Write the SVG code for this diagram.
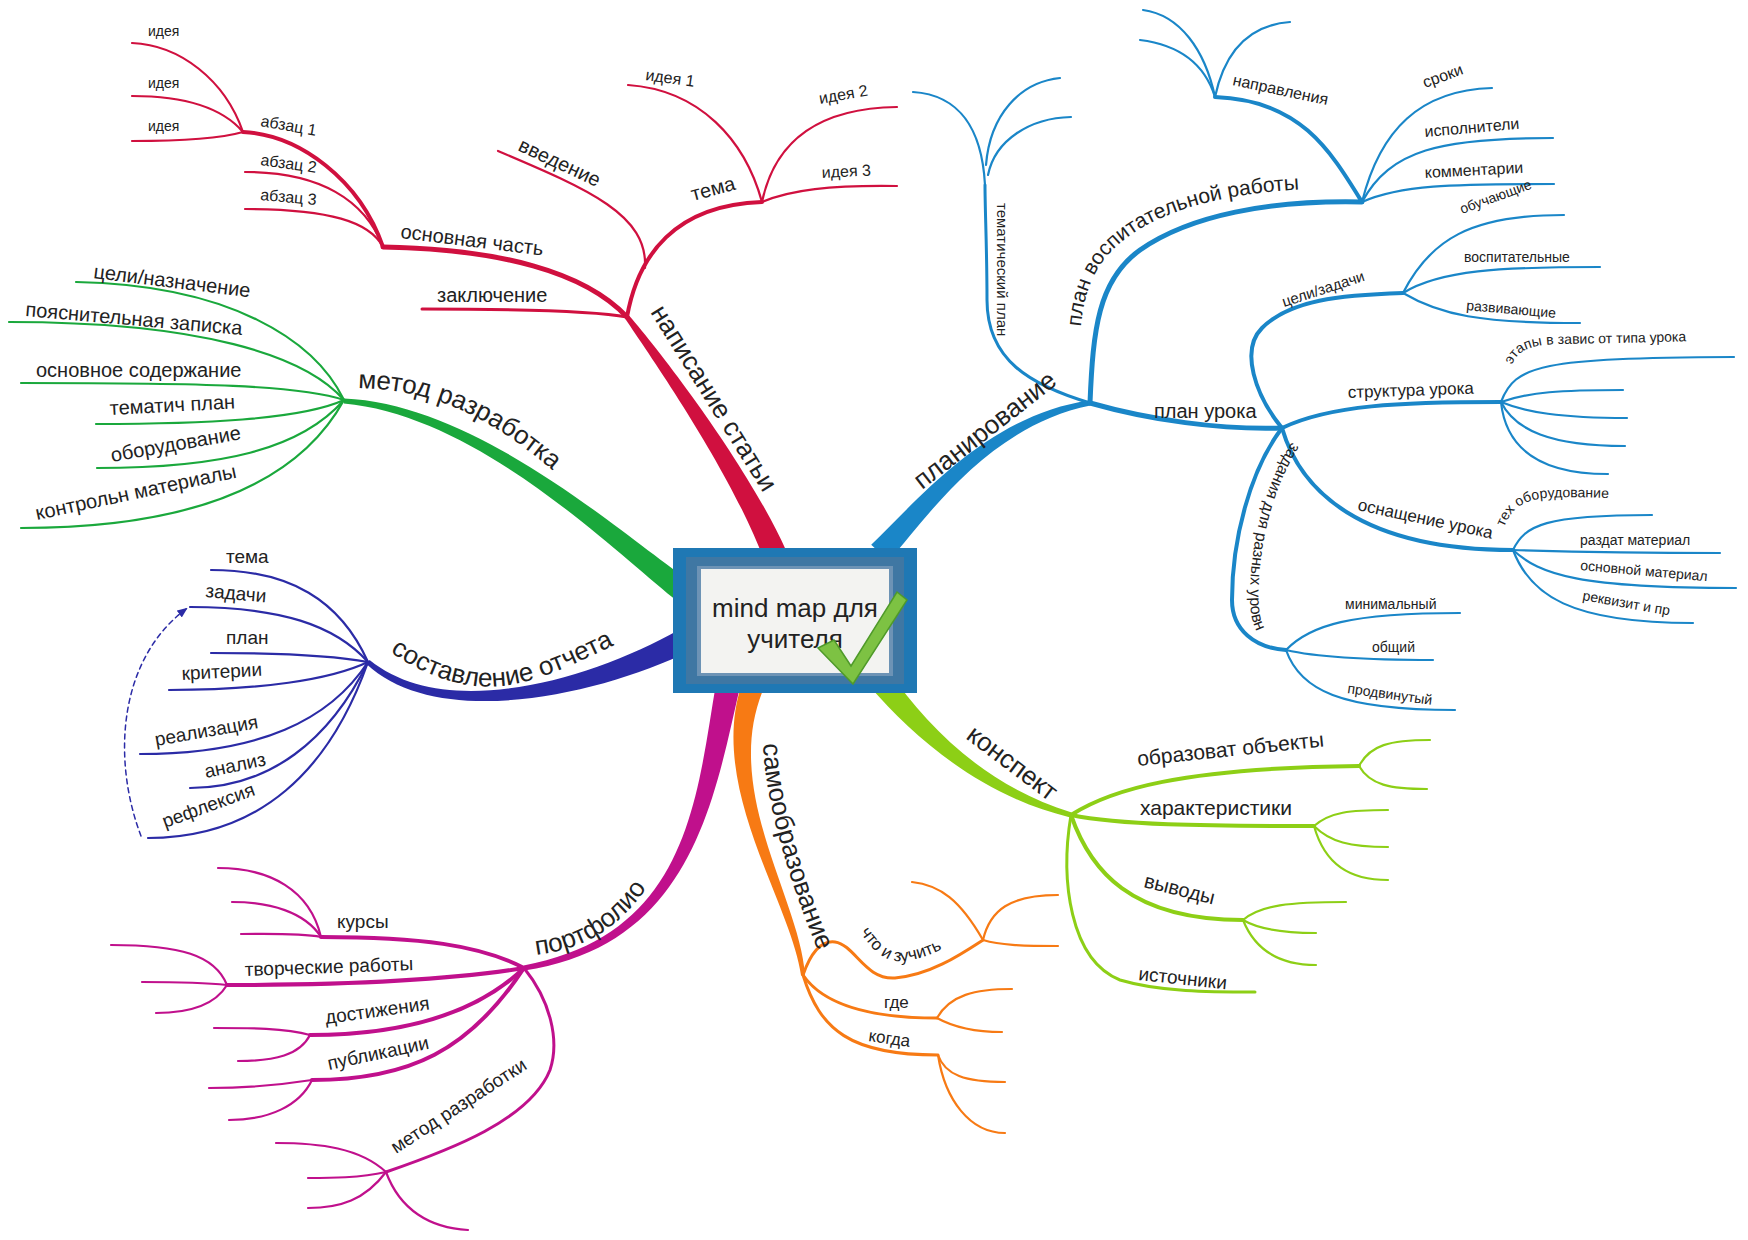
<svg xmlns="http://www.w3.org/2000/svg" width="1748" height="1240" viewBox="0 0 1748 1240">
<defs>
<style>
text{font-family:"Liberation Sans",Arial,sans-serif;fill:#222}
.c{fill:none;stroke-linecap:round}
.r{stroke:#d0103f}.b{stroke:#1a86c8}.g{stroke:#1aa83c}.i{stroke:#2b2ba6}.m{stroke:#c0108c}.o{stroke:#f77a14}.l{stroke:#8dcf16}
.fr{fill:#d0103f}.fb{fill:#1a86c8}.fg{fill:#1aa83c}.fi{fill:#2b2ba6}.fm{fill:#c0108c}.fo{fill:#f77a14}.fl{fill:#8dcf16}
.w5{stroke-width:5}.w4{stroke-width:4}.w3{stroke-width:3}.w2{stroke-width:2.2}
.t26{font-size:26px}.t21{font-size:21px}.t20{font-size:20px}.t19{font-size:19px}.t17{font-size:17px}.t16{font-size:16px}.t15{font-size:15px}.t14{font-size:14px}
</style>
<marker id="ah" viewBox="0 0 10 10" refX="8" refY="5" markerWidth="7" markerHeight="7" orient="auto"><path d="M0,1 L10,5 L0,9 Z" fill="#2b2ba6"/></marker>
<path id="tp-vosp" d="M1080,335 C1084,282 1100,255 1135,232 C1185,200 1260,188 1352,188"/>
<path id="tp-metod" d="M358,388 C430,390 490,412 570,486"/>
<path id="tp-otch" d="M390,652 C422,674 462,690 502,686 C550,680 590,655 630,638"/>
<path id="tp-portf" d="M536,955 C590,948 628,925 664,860"/>
<path id="tp-samo" d="M763,744 C765,800 788,880 820,955"/>
<path id="tp-chto" d="M860,932 C872,950 886,964 906,961 C932,957 952,944 976,930"/>
<path id="tp-zad" d="M1292,442 C1266,482 1250,540 1250,598 C1250,620 1256,636 1270,648"/>
<path id="tp-teh" d="M1504,527 C1512,508 1524,500 1545,498 C1580,496 1610,498 1640,500"/>
<path id="tp-etap" d="M1512,365 C1518,350 1530,345 1560,344 C1620,343 1670,342 1720,340"/>
</defs>
<rect width="1748" height="1240" fill="#ffffff"/>

<g id="connectors">
<!-- main tapered branches -->
<path class="fr" d="M786.1,550.4 C748.2,466.6 664.5,356.5 629,315.5 L625,318.5 C655.5,363.5 731.8,473.4 763.9,559.6 Z"/>
<path class="fb" d="M888.8,561.2 C931.4,511 991,425.6 1090.4,405.5 L1089.6,400.5 C989,414.4 918.6,499 871.2,544.8 Z"/>
<path class="fg" d="M692,582.3 C625.2,537.8 480.4,404.3 344.2,398.5 L343.8,403.5 C479.6,415.7 614.8,552.2 678,601.7 Z"/>
<path class="fi" d="M679.4,629.4 C585.9,682.2 443.7,720.7 369.6,660.1 L366.4,663.9 C436.3,729.3 594.1,697.8 690.6,650.6 Z"/>
<path class="fm" d="M716.2,682.6 C696.3,798.3 689.1,934.4 523.6,965.5 L524.4,970.5 C690.9,945.6 713.7,801.7 739.8,687.4 Z"/>
<path class="fo" d="M741.7,684.2 C707.5,787.3 790,900.5 801,975.2 L805,974.8 C800,899.5 722.5,792.7 762.3,691.8 Z"/>
<path class="fl" d="M870.6,687.5 C913.1,735.5 978.5,795.5 1070.3,817.4 L1071.7,812.6 C981.5,784.5 926.9,724.5 889.4,672.5 Z"/>

<!-- red -->
<path class="c r w5" d="M627,317 C585,272 500,249 383,247"/>
<path class="c r w3" d="M627,317 C590,310 500,309 422,309"/>
<path class="c r w4" d="M627,317 C638,255 675,205 762,202"/>
<path class="c r w2" d="M498,151 C590,190 648,215 645,268"/>
<path class="c r w2" d="M628,85 C700,90 745,140 762,202"/>
<path class="c r w2" d="M897,107 C820,108 775,140 762,202"/>
<path class="c r w2" d="M897,186 C830,185 790,190 762,202"/>
<path class="c r w4" d="M383,247 C360,180 300,135 243,132"/>
<path class="c r w2" d="M383,247 C365,200 320,172 245,172"/>
<path class="c r w2" d="M383,247 C370,222 330,209 245,209"/>
<path class="c r w2" d="M243,132 C225,80 180,45 132,43"/>
<path class="c r w2" d="M243,132 C220,105 180,96 132,96"/>
<path class="c r w2" d="M243,132 C215,140 170,141 132,141"/>

<!-- blue -->
<path class="c b w3" d="M1090,403 C1030,385 987,360 987,300 C987,250 985,210 985,185"/>
<path class="c b w2" d="M985,185 C982,130 960,95 913,92"/>
<path class="c b w2" d="M986,165 C990,115 1020,82 1060,78"/>
<path class="c b w2" d="M988,175 C995,140 1030,118 1071,117"/>
<path class="c b w5" d="M1090,403 C1093,330 1098,280 1140,250 C1190,215 1270,200 1362,202"/>
<path class="c b w4" d="M1362,202 C1330,150 1300,100 1215,97"/>
<path class="c b w2" d="M1215,97 C1205,50 1180,15 1143,10"/>
<path class="c b w2" d="M1215,97 C1205,65 1180,45 1140,40"/>
<path class="c b w2" d="M1215,97 C1225,50 1250,25 1290,22"/>
<path class="c b w2" d="M1362,202 C1380,130 1420,90 1492,88"/>
<path class="c b w2" d="M1362,202 C1390,150 1440,138 1553,138"/>
<path class="c b w2" d="M1362,202 C1400,185 1450,184 1554,184"/>
<path class="c b w5" d="M1090,403 C1150,420 1220,430 1282,428"/>
<path class="c b w4" d="M1282,428 C1255,395 1240,350 1262,328 C1290,300 1340,295 1403,293"/>
<path class="c b w2" d="M1403,293 C1430,240 1470,215 1564,215"/>
<path class="c b w2" d="M1403,293 C1440,270 1500,267 1600,267"/>
<path class="c b w2" d="M1403,293 C1440,315 1480,323 1580,323"/>
<path class="c b w4" d="M1282,428 C1330,405 1400,402 1501,402"/>
<path class="c b w2" d="M1501,402 C1515,365 1540,358 1734,357"/>
<path class="c b w2" d="M1501,402 C1530,392 1560,390 1623,390"/>
<path class="c b w2" d="M1501,402 C1525,412 1560,418 1627,418"/>
<path class="c b w2" d="M1501,402 C1515,430 1550,446 1625,446"/>
<path class="c b w2" d="M1501,402 C1505,440 1530,474 1608,474"/>
<path class="c b w4" d="M1282,428 C1300,490 1360,550 1513,550"/>
<path class="c b w2" d="M1513,550 C1525,525 1545,515 1652,515"/>
<path class="c b w2" d="M1513,550 C1580,552 1650,553 1720,553"/>
<path class="c b w2" d="M1513,550 C1540,575 1580,588 1736,588"/>
<path class="c b w2" d="M1513,550 C1530,595 1570,623 1693,623"/>
<path class="c b w4" d="M1282,428 C1250,470 1232,540 1232,600 C1232,630 1255,648 1286,650"/>
<path class="c b w2" d="M1286,650 C1310,625 1350,613 1460,613"/>
<path class="c b w2" d="M1286,650 C1320,658 1370,660 1433,660"/>
<path class="c b w2" d="M1286,650 C1300,690 1340,710 1455,710"/>

<!-- green -->
<path class="c g w2" d="M344,400 C315,340 230,285 76,282"/>
<path class="c g w2" d="M344,400 C305,355 200,322 9,322"/>
<path class="c g w2" d="M344,400 C300,385 200,383 21,383"/>
<path class="c g w2" d="M344,400 C300,420 200,424 96,424"/>
<path class="c g w2" d="M344,400 C300,450 220,468 97,468"/>
<path class="c g w2" d="M344,400 C300,480 200,528 21,528"/>

<!-- indigo -->
<path class="c i w2" d="M368,662 C340,600 290,570 211,570"/>
<path class="c i w2" d="M368,662 C335,625 280,607 190,607"/>
<path class="c i w2" d="M368,662 C330,655 280,653 211,653"/>
<path class="c i w2" d="M368,662 C330,680 260,690 169,690"/>
<path class="c i w2" d="M368,662 C330,720 260,754 140,754"/>
<path class="c i w2" d="M368,662 C330,740 270,788 190,788"/>
<path class="c i w2" d="M368,662 C330,770 260,838 148,838"/>
<path class="c i" stroke-width="1.5" stroke-dasharray="5,4" marker-end="url(#ah)" d="M141,836 C112,760 118,660 186,609"/>

<!-- magenta -->
<path class="c m w4" d="M524,968 C480,945 420,937 321,937"/>
<path class="c m w2" d="M321,937 C310,890 270,868 218,868"/>
<path class="c m w2" d="M321,937 C305,912 270,902 232,902"/>
<path class="c m w2" d="M321,937 C300,933 270,934 241,934"/>
<path class="c m w4" d="M524,968 C450,980 350,985 227,985"/>
<path class="c m w2" d="M227,985 C215,955 180,945 111,945"/>
<path class="c m w2" d="M227,985 C200,982 170,982 142,982"/>
<path class="c m w2" d="M227,985 C215,1005 190,1013 156,1013"/>
<path class="c m w4" d="M524,968 C480,1010 410,1035 310,1035"/>
<path class="c m w2" d="M310,1035 C285,1028 250,1028 214,1028"/>
<path class="c m w2" d="M310,1035 C300,1055 275,1061 238,1061"/>
<path class="c m w4" d="M524,968 C470,1050 410,1080 312,1080"/>
<path class="c m w2" d="M312,1080 C280,1085 240,1088 209,1088"/>
<path class="c m w2" d="M312,1080 C300,1105 270,1120 229,1120"/>
<path class="c m w3" d="M524,968 C550,1000 560,1040 550,1070 C530,1120 450,1150 386,1172"/>
<path class="c m w2" d="M386,1172 C360,1148 320,1143 276,1143"/>
<path class="c m w2" d="M386,1172 C360,1178 330,1178 308,1178"/>
<path class="c m w2" d="M386,1172 C365,1200 340,1208 308,1208"/>
<path class="c m w2" d="M386,1172 C400,1210 430,1228 468,1230"/>

<!-- orange -->
<path class="c o w3" d="M803,975 C810,955 820,940 835,942 C855,945 865,980 895,978 C930,975 960,955 983,940"/>
<path class="c o w2" d="M983,940 C960,900 940,885 912,882"/>
<path class="c o w2" d="M983,940 C990,910 1010,895 1058,895"/>
<path class="c o w2" d="M983,940 C1000,945 1020,946 1058,946"/>
<path class="c o w3" d="M803,975 C820,1000 860,1018 937,1018"/>
<path class="c o w2" d="M937,1018 C950,995 975,989 1012,989"/>
<path class="c o w2" d="M937,1018 C955,1028 975,1032 1002,1032"/>
<path class="c o w3" d="M803,975 C820,1030 850,1055 938,1055"/>
<path class="c o w2" d="M938,1055 C945,1075 965,1082 1005,1082"/>
<path class="c o w2" d="M938,1055 C945,1100 970,1133 1005,1133"/>

<!-- lime -->
<path class="c l w4" d="M1071,815 C1110,790 1180,768 1359,766"/>
<path class="c l w2" d="M1359,766 C1370,745 1390,740 1430,740"/>
<path class="c l w2" d="M1359,766 C1370,785 1390,789 1427,789"/>
<path class="c l w4" d="M1071,815 C1120,825 1200,826 1314,826"/>
<path class="c l w2" d="M1314,826 C1330,812 1350,810 1388,810"/>
<path class="c l w2" d="M1314,826 C1330,842 1350,847 1388,847"/>
<path class="c l w2" d="M1314,826 C1325,865 1350,880 1388,880"/>
<path class="c l w4" d="M1071,815 C1090,870 1130,920 1243,920"/>
<path class="c l w2" d="M1243,920 C1260,905 1290,902 1346,902"/>
<path class="c l w2" d="M1243,920 C1260,930 1285,933 1316,933"/>
<path class="c l w2" d="M1243,920 C1255,950 1280,965 1316,965"/>
<path class="c l w3" d="M1071,815 C1060,880 1070,960 1120,980 C1160,992 1210,992 1255,992"/>
</g>

<g id="center">
<rect x="673" y="548" width="244" height="145" fill="#1f78b4"/>
<rect x="686" y="557" width="218" height="127" fill="#3f77a3"/>
<rect x="697" y="566" width="196" height="110" fill="#6d93b5"/>
<rect x="701" y="569" width="188" height="104" fill="#f3f3f1"/>
<text class="t26" x="795" y="617" text-anchor="middle">mind map для</text>
<text class="t26" x="795" y="648" text-anchor="middle">учителя</text>
<polygon points="818,648 834,640 851,666 897,592 907,600 853,684" fill="#7dc243" stroke="#4f9a2a" stroke-width="1.5"/>
</g>

<g id="n-napisanie">
<text class="t26" x="650" y="312" transform="rotate(58 650 312)">написание статьи</text>
</g>
<g id="n-napisanie-sub">
<text class="t20" x="400" y="238" transform="rotate(7 400 238)">основная часть</text>
<text class="t20" x="437" y="302">заключение</text>
<text class="t20" x="517" y="150" transform="rotate(25 517 150)">введение</text>
<text class="t20" x="693" y="201" transform="rotate(-15 693 201)">тема</text>
<text class="t16" x="645" y="80" transform="rotate(8 645 80)">идея 1</text>
<text class="t16" x="820" y="104" transform="rotate(-10 820 104)">идея 2</text>
<text class="t16" x="822" y="178" transform="rotate(-3 822 178)">идея 3</text>
<text class="t16" x="260" y="126" transform="rotate(10 260 126)">абзац 1</text>
<text class="t16" x="260" y="165" transform="rotate(8 260 165)">абзац 2</text>
<text class="t16" x="260" y="200" transform="rotate(5 260 200)">абзац 3</text>
<text class="t14" x="148" y="36">идея</text>
<text class="t14" x="148" y="88">идея</text>
<text class="t14" x="148" y="131">идея</text>
</g>

<g id="n-planirovanie">
<text class="t26" x="922" y="490" transform="rotate(-38 922 490)">планирование</text>
</g>
<g id="n-planirovanie-sub">
<text class="t15" x="997" y="203" transform="rotate(90 997 203)">тематический план</text>
<text class="t21"><textPath href="#tp-vosp" startOffset="8">план воспитательной работы</textPath></text>
<text class="t16" x="1232" y="85" transform="rotate(12 1232 85)">направления</text>
<text class="t16" x="1425" y="88" transform="rotate(-20 1425 88)">сроки</text>
<text class="t16" x="1425" y="137" transform="rotate(-5 1425 137)">исполнители</text>
<text class="t16" x="1425" y="178" transform="rotate(-3 1425 178)">комментарии</text>
<text class="t20" x="1154" y="418">план урока</text>
<text class="t15" x="1284" y="307" transform="rotate(-18 1284 307)">цели/задачи</text>
<text class="t14" x="1462" y="214" transform="rotate(-20 1462 214)">обучающие</text>
<text class="t14" x="1464" y="262">воспитательные</text>
<text class="t14" x="1466" y="310" transform="rotate(5 1466 310)">развивающие</text>
<text class="t17" x="1348" y="398" transform="rotate(-2 1348 398)">структура урока</text>
<text class="t14"><textPath href="#tp-etap">этапы в завис от типа урока</textPath></text>
<text class="t17" x="1357" y="510" transform="rotate(12 1357 510)">оснащение урока</text>
<text class="t14"><textPath href="#tp-teh">тех оборудование</textPath></text>
<text class="t14" x="1580" y="545">раздат материал</text>
<text class="t14" x="1580" y="570" transform="rotate(5 1580 570)">основной материал</text>
<text class="t14" x="1582" y="600" transform="rotate(10 1582 600)">реквизит и пр</text>
<text class="t16"><textPath href="#tp-zad">задания для разных уровн</textPath></text>
<text class="t14" x="1345" y="609">минимальный</text>
<text class="t14" x="1372" y="652">общий</text>
<text class="t14" x="1347" y="693" transform="rotate(8 1347 693)">продвинутый</text>
</g>

<g id="n-metod">
<text class="t26"><textPath href="#tp-metod">метод разработка</textPath></text>
</g>
<g id="n-metod-sub">
<text class="t20" x="93" y="278" transform="rotate(7 93 278)">цели/назначение</text>
<text class="t20" x="25" y="316" transform="rotate(5 25 316)">пояснительная записка</text>
<text class="t20" x="36" y="377">основное содержание</text>
<text class="t20" x="110" y="415" transform="rotate(-3 110 415)">тематич план</text>
<text class="t20" x="112" y="462" transform="rotate(-10 112 462)">оборудование</text>
<text class="t20" x="37" y="520" transform="rotate(-12 37 520)">контрольн материалы</text>
</g>

<g id="n-otchet">
<text class="t26"><textPath href="#tp-otch">составление отчета</textPath></text>
</g>
<g id="n-otchet-sub">
<text class="t19" x="226" y="563">тема</text>
<text class="t19" x="205" y="597" transform="rotate(5 205 597)">задачи</text>
<text class="t19" x="226" y="644">план</text>
<text class="t19" x="182" y="680" transform="rotate(-3 182 680)">критерии</text>
<text class="t19" x="156" y="746" transform="rotate(-10 156 746)">реализация</text>
<text class="t19" x="206" y="778" transform="rotate(-12 206 778)">анализ</text>
<text class="t19" x="165" y="828" transform="rotate(-20 165 828)">рефлексия</text>
</g>

<g id="n-portfolio">
<text class="t26"><textPath href="#tp-portf">портфолио</textPath></text>
</g>
<g id="n-portfolio-sub">
<text class="t19" x="337" y="928">курсы</text>
<text class="t19" x="245" y="976" transform="rotate(-2 245 976)">творческие работы</text>
<text class="t19" x="326" y="1024" transform="rotate(-8 326 1024)">достижения</text>
<text class="t19" x="329" y="1070" transform="rotate(-12 329 1070)">публикации</text>
<text class="t19" x="396" y="1154" transform="rotate(-33 396 1154)">метод разработки</text>
</g>

<g id="n-samo">
<text class="t26"><textPath href="#tp-samo">самообразование</textPath></text>
</g>
<g id="n-samo-sub">
<text class="t17"><textPath href="#tp-chto">что и зучить</textPath></text>
<text class="t17" x="884" y="1008">где</text>
<text class="t17" x="868" y="1041" transform="rotate(8 868 1041)">когда</text>
</g>

<g id="n-konspekt">
<text class="t26" x="965" y="738" transform="rotate(37 965 738)">конспект</text>
</g>
<g id="n-konspekt-sub">
<text class="t21" x="1138" y="766" transform="rotate(-6 1138 766)">образоват объекты</text>
<text class="t21" x="1140" y="815">характеристики</text>
<text class="t20" x="1143" y="887" transform="rotate(14 1143 887)">выводы</text>
<text class="t19" x="1138" y="980" transform="rotate(6 1138 980)">источники</text>
</g>
</svg>
